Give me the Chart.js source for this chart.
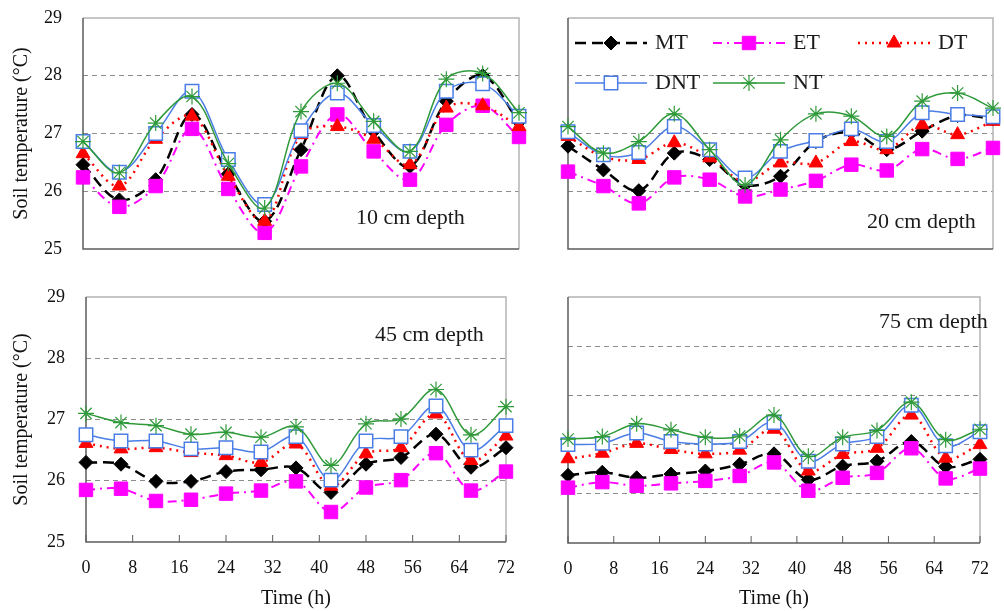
<!DOCTYPE html>
<html>
<head>
<meta charset="utf-8">
<title>Soil temperature at four depths</title>
<script src="https://cdn.jsdelivr.net/npm/chart.js@4.4.1/dist/chart.umd.min.js"></script>
<style>
  html, body { margin: 0; padding: 0; background: #fff; }
  #wrap { position: relative; width: 1004px; height: 611px; overflow: hidden; }
  #wrap canvas { position: absolute; }
</style>
</head>
<body>
<div id="wrap">
  <canvas id="d10" width="530" height="280" style="left:0;top:0"></canvas>
  <canvas id="d20" width="474" height="280" style="left:530px;top:0"></canvas>
  <canvas id="d45" width="530" height="331" style="left:0;top:280px"></canvas>
  <canvas id="d75" width="474" height="331" style="left:530px;top:280px"></canvas>
</div>
<script>
const hours = [0, 6, 12, 18, 24, 30, 36, 42, 48, 54, 60, 66, 72];
const treatments = ['MT', 'ET', 'DT', 'DNT', 'NT'];
const depthLabels = ['10 cm depth', '20 cm depth', '45 cm depth', '75 cm depth'];

// 10 cm
const mt10  = [26.46, 25.85, 26.20, 27.33, 26.30, 25.48, 26.72, 28.00, 27.04, 26.43, 27.56, 28.00, 27.20];
const et10  = [26.24, 25.73, 26.09, 27.08, 26.04, 25.28, 26.43, 27.33, 26.69, 26.20, 27.15, 27.48, 26.94];
const dt10  = [26.65, 26.09, 26.90, 27.30, 26.26, 25.48, 26.98, 27.12, 26.90, 26.46, 27.44, 27.48, 27.12];
const dnt10 = [26.86, 26.33, 27.00, 27.73, 26.55, 25.77, 27.05, 27.70, 27.14, 26.69, 27.73, 27.86, 27.30];
const nt10  = [26.86, 26.32, 27.18, 27.64, 26.48, 25.71, 27.38, 27.87, 27.21, 26.69, 27.94, 28.04, 27.36];

// 20 cm
const mt20  = [26.78, 26.37, 26.01, 26.66, 26.55, 26.11, 26.26, 26.86, 27.02, 26.72, 27.04, 27.31, 27.25];
const et20  = [26.34, 26.09, 25.79, 26.24, 26.20, 25.91, 26.03, 26.18, 26.46, 26.36, 26.73, 26.56, 26.75];
const dt20  = [26.95, 26.60, 26.55, 26.84, 26.58, 26.17, 26.49, 26.49, 26.86, 26.72, 27.15, 26.98, 27.21];
const dnt20 = [27.03, 26.63, 26.67, 27.12, 26.72, 26.23, 26.69, 26.88, 27.08, 26.86, 27.36, 27.33, 27.29];
const nt20  = [27.12, 26.66, 26.86, 27.34, 26.72, 26.11, 26.89, 27.34, 27.30, 26.95, 27.56, 27.70, 27.44];

// 45 cm
const mt45  = [26.30, 26.27, 25.99, 25.99, 26.15, 26.18, 26.21, 25.81, 26.27, 26.38, 26.76, 26.22, 26.54];
const et45  = [25.85, 25.87, 25.67, 25.69, 25.79, 25.84, 25.99, 25.49, 25.89, 26.01, 26.45, 25.84, 26.15];
const dt45  = [26.61, 26.52, 26.54, 26.46, 26.41, 26.30, 26.60, 25.91, 26.44, 26.54, 27.09, 26.33, 26.73];
const dnt45 = [26.75, 26.65, 26.65, 26.52, 26.54, 26.47, 26.72, 26.01, 26.65, 26.72, 27.22, 26.50, 26.90];
const nt45  = [27.10, 26.95, 26.90, 26.76, 26.79, 26.71, 26.88, 26.25, 26.93, 27.01, 27.49, 26.75, 27.21];

// 75 cm
const mt75  = [26.10, 26.15, 26.06, 26.12, 26.17, 26.28, 26.45, 26.03, 26.25, 26.33, 26.65, 26.24, 26.36];
const et75  = [25.90, 25.99, 25.93, 25.97, 26.01, 26.09, 26.31, 25.85, 26.06, 26.14, 26.54, 26.05, 26.21];
const dt75  = [26.37, 26.46, 26.62, 26.52, 26.45, 26.51, 26.85, 26.17, 26.44, 26.54, 27.08, 26.38, 26.60];
const dnt75 = [26.60, 26.62, 26.79, 26.65, 26.61, 26.65, 26.96, 26.33, 26.61, 26.73, 27.24, 26.58, 26.81];
const nt75  = [26.69, 26.73, 26.94, 26.84, 26.72, 26.74, 27.08, 26.41, 26.72, 26.83, 27.29, 26.68, 26.85];

Chart.defaults.font.family = '"Liberation Serif", "Times New Roman", serif';
Chart.defaults.color = '#111';

const styles = [
  { color: '#000000', fill: '#000000', dash: [11, 6], width: 2.5, point: 'rectRot', radius: 7, pw: 1 },
  { color: '#ff00ff', fill: '#ff00ff', dash: [9, 5, 2, 5], width: 2, point: 'rect', radius: 9.5, pw: 1 },
  { color: '#ff0000', fill: '#ff0000', dash: [2, 5], width: 2.5, point: 'triangle', radius: 8, pw: 1 },
  { color: '#4a7ee6', fill: '#ffffff', dash: [], width: 1.5, point: 'rect', radius: 9.5, pw: 1.5 },
  { color: '#2f9a3a', fill: '#2f9a3a', dash: [], width: 1.5, point: 'star', radius: 8, pw: 1.2 }
];

// frame, inner tick marks, depth label and legend
const panelDecor = {
  id: 'panelDecor',
  beforeDatasetsDraw(chart, args, opts) {
    const ctx = chart.ctx, a = chart.chartArea;
    ctx.save();
    ctx.lineWidth = 1.5;
    ctx.strokeStyle = '#b4b4b4';
    ctx.beginPath();
    ctx.moveTo(a.left, a.top);
    ctx.lineTo(a.right, a.top);
    ctx.lineTo(a.right, a.bottom);
    ctx.stroke();
    ctx.strokeStyle = '#5c5c5c';
    ctx.beginPath();
    ctx.moveTo(a.left, a.top);
    ctx.lineTo(a.left, a.bottom);
    ctx.lineTo(a.right, a.bottom);
    ctx.stroke();
    if (opts.innerTicks) {
      const x = chart.scales.x;
      ctx.lineWidth = 1;
      x.ticks.forEach(t => {
        const px = x.getPixelForValue(t.value);
        ctx.beginPath();
        ctx.moveTo(px, a.bottom);
        ctx.lineTo(px, a.bottom - 7);
        ctx.stroke();
      });
    }
    ctx.restore();
  },
  afterDraw(chart, args, opts) {
    const ctx = chart.ctx, a = chart.chartArea;
    ctx.save();
    ctx.font = '22px "Liberation Serif"';
    ctx.fillStyle = '#1a1a1a';
    ctx.textBaseline = 'middle';
    ctx.fillText(opts.label, opts.labelX, opts.labelY);

    if (opts.legend) {
      const slots = [[7, 25], [145, 25], [290, 25], [7, 65], [145, 65]];
      chart.data.datasets.forEach((ds, i) => {
        const x0 = a.left + slots[i][0], y = a.top + slots[i][1];
        ctx.setLineDash(ds.borderDash);
        ctx.lineWidth = ds.borderWidth;
        ctx.strokeStyle = ds.borderColor;
        ctx.beginPath();
        ctx.moveTo(x0, y);
        ctx.lineTo(x0 + 72, y);
        ctx.stroke();
        ctx.setLineDash([]);
        ctx.fillStyle = ds.pointBackgroundColor;
        ctx.lineWidth = ds.pointBorderWidth;
        Chart.helpers.drawPoint(ctx, {
          pointStyle: ds.pointStyle, radius: ds.pointRadius, rotation: 0, borderWidth: ds.pointBorderWidth
        }, x0 + 36, y);
        ctx.fillStyle = '#1a1a1a';
        ctx.fillText(ds.label, x0 + 80, y);
      });
    }
    ctx.restore();
  }
};

function makePanel(id, series, o) {
  const datasets = treatments.map((name, i) => {
    const s = styles[i];
    return {
      label: name,
      data: series[i].map((v, j) => ({ x: hours[j], y: v })),
      borderColor: s.color,
      borderWidth: s.width,
      borderDash: s.dash,
      pointStyle: s.point,
      pointRadius: s.radius,
      pointBorderColor: s.color,
      pointBackgroundColor: s.fill,
      pointBorderWidth: s.pw,
      tension: 0.35,
      order: 5 - i,
      clip: false
    };
  });

  return new Chart(document.getElementById(id), {
    type: 'line',
    data: { datasets: datasets },
    options: {
      responsive: false,
      animation: false,
      layout: { padding: o.padding },
      plugins: {
        legend: { display: false },
        tooltip: { enabled: false },
        panelDecor: o.decor
      },
      scales: {
        x: {
          type: 'linear',
          min: 0,
          max: 72,
          afterFit: s => { s.height = o.xHeight; },
          grid: { display: false, drawTicks: false },
          border: { display: false },
          ticks: { display: o.bottom, stepSize: 8, padding: 15, maxRotation: 0, font: { size: 18 } },
          title: { display: o.bottom, text: 'Time (h)', font: { size: 20 }, padding: 0 }
        },
        y: {
          min: 25,
          max: 29,
          afterFit: s => { s.width = o.yWidth; },
          grid: {
            drawTicks: true,
            tickLength: 21,
            tickColor: 'rgba(0,0,0,0)',
            lineWidth: 1,
            color: c => (c.index === 0 || c.index === c.scale.ticks.length - 1) ? 'rgba(0,0,0,0)' : '#8c8c8c'
          },
          border: { display: false, dash: [5, 4] },
          ticks: { display: o.left, stepSize: o.yStep, padding: 0, font: { size: 18 } },
          title: { display: o.left, text: 'Soil temperature (°C)', font: { size: 20 }, padding: { top: 10, bottom: 0 } }
        }
      }
    },
    plugins: [panelDecor]
  });
}

makePanel('d10', [mt10, et10, dt10, dnt10, nt10], {
  padding: { top: 18, right: 11, left: 0, bottom: 0 }, xHeight: 31, yWidth: 83,
  left: true, bottom: false, yStep: 1,
  decor: { label: depthLabels[0], labelX: 356, labelY: 218, legend: false, innerTicks: false }
});

makePanel('d20', [mt20, et20, dt20, dnt20, nt20], {
  padding: { top: 18, right: 1, left: 0, bottom: 0 }, xHeight: 31, yWidth: 38,
  left: false, bottom: false, yStep: 1,
  decor: { label: depthLabels[1], labelX: 337, labelY: 222, legend: true, innerTicks: false }
});

makePanel('d45', [mt45, et45, dt45, dnt45, nt45], {
  padding: { top: 17, right: 11, left: 0, bottom: 0 }, xHeight: 69, yWidth: 86,
  left: true, bottom: true, yStep: 1,
  decor: { label: depthLabels[2], labelX: 375, labelY: 55, legend: false, innerTicks: true }
});

makePanel('d75', [mt75, et75, dt75, dnt75, nt75], {
  padding: { top: 17, right: 8, left: 0, bottom: 0 }, xHeight: 68, yWidth: 38,
  left: false, bottom: true, yStep: 0.8,
  decor: { label: depthLabels[3], labelX: 349, labelY: 42, legend: false, innerTicks: true }
});
</script>
</body>
</html>
